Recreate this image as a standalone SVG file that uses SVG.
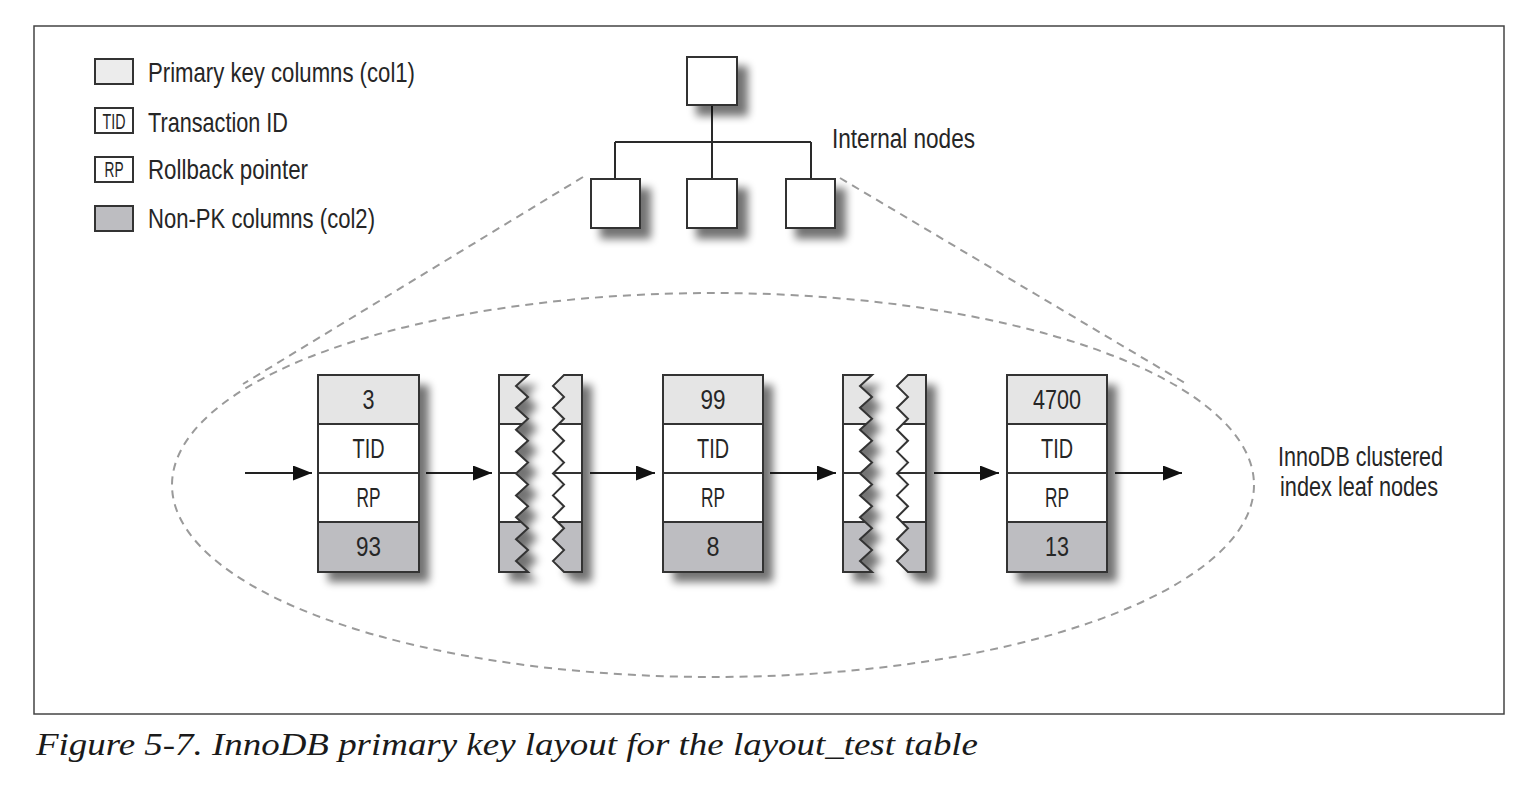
<svg xmlns="http://www.w3.org/2000/svg" xmlns:xlink="http://www.w3.org/1999/xlink" width="1526" height="800" viewBox="0 0 1526 800">
<style>
.lbl{font-family:"Liberation Sans",Arial,sans-serif;fill:#262626;}
.leg{font-size:28px;}
.cell{font-size:27px;text-anchor:middle;}
.box{fill:#fff;stroke:#333;stroke-width:2;}
.pk{fill:#e5e5e5;}
.np{fill:#bdbdc1;}
.wh{fill:#fff;}
.div{stroke:#333;stroke-width:2;fill:none;}
.out{fill:none;stroke:#333;stroke-width:2;}
.dash{fill:none;stroke:#9a9a9a;stroke-width:2;stroke-dasharray:8 6;}
.tree{stroke:#2a2a2a;stroke-width:2;fill:none;}
.arr{stroke:#222;stroke-width:2;fill:none;marker-end:url(#ah);}
</style>
<defs>
<filter id="sh" x="-30%" y="-30%" width="170%" height="170%">
<feGaussianBlur in="SourceAlpha" stdDeviation="4.5"/>
<feOffset dx="10" dy="10"/>
<feComponentTransfer><feFuncA type="linear" slope="0.55"/></feComponentTransfer>
<feMerge><feMergeNode/><feMergeNode in="SourceGraphic"/></feMerge>
</filter>
<marker id="ah" markerUnits="userSpaceOnUse" markerWidth="20" markerHeight="16" refX="19" refY="7.5" orient="auto">
<path d="M0,0 L19,7.5 L0,15 Z" fill="#111"/>
</marker>
<clipPath id="cl"><path id="lp" d="M499,375 H528 L516,385.9 L528,396.9 L516,407.8 L528,418.8 L516,429.7 L528,440.7 L516,451.6 L528,462.6 L516,473.5 L528,484.4 L516,495.4 L528,506.3 L516,517.3 L528,528.2 L516,539.2 L528,550.1 L516,561.1 L528,572 H499 Z"/></clipPath>
<clipPath id="cr"><path id="rp" d="M582,375 H564 L553,385.9 L564,396.9 L553,407.8 L564,418.8 L553,429.7 L564,440.7 L553,451.6 L564,462.6 L553,473.5 L564,484.4 L553,495.4 L564,506.3 L553,517.3 L564,528.2 L553,539.2 L564,550.1 L553,561.1 L564,572 H582 Z"/></clipPath>
<g id="broken">
<g filter="url(#sh)"><use xlink:href="#lp" fill="#fff"/><use xlink:href="#rp" fill="#fff"/></g>
<g clip-path="url(#cl)">
<rect class="pk" x="495" y="375" width="40" height="49"/>
<rect class="np" x="495" y="522" width="40" height="50"/>
<path class="div" d="M495,424 H535 M495,473 H535 M495,522 H535"/>
</g>
<g clip-path="url(#cr)">
<rect class="pk" x="548" y="375" width="40" height="49"/>
<rect class="np" x="548" y="522" width="40" height="50"/>
<path class="div" d="M548,424 H588 M548,473 H588 M548,522 H588"/>
</g>
<use xlink:href="#lp" class="out"/>
<use xlink:href="#rp" class="out"/>
</g>
</defs>

<rect x="34" y="26" width="1470" height="688" fill="#fff" stroke="#444" stroke-width="1.5"/>

<g id="legend">
<rect x="95" y="59" width="38" height="25" fill="#ececec" stroke="#333" stroke-width="2"/>
<text class="lbl leg" x="148" y="82" textLength="267" lengthAdjust="spacingAndGlyphs">Primary key columns (col1)</text>
<rect x="95" y="108" width="38" height="25" fill="#fff" stroke="#333" stroke-width="2"/>
<text class="lbl" x="114" y="129" font-size="22" text-anchor="middle" textLength="23" lengthAdjust="spacingAndGlyphs">TID</text>
<text class="lbl leg" x="148" y="132" textLength="140" lengthAdjust="spacingAndGlyphs">Transaction ID</text>
<rect x="95" y="157" width="38" height="25" fill="#fff" stroke="#333" stroke-width="2"/>
<text class="lbl" x="114" y="177" font-size="22" text-anchor="middle" textLength="19" lengthAdjust="spacingAndGlyphs">RP</text>
<text class="lbl leg" x="148" y="179" textLength="160" lengthAdjust="spacingAndGlyphs">Rollback pointer</text>
<rect x="95" y="206" width="38" height="25" fill="#bdbdc1" stroke="#333" stroke-width="2"/>
<text class="lbl leg" x="148" y="228" textLength="227" lengthAdjust="spacingAndGlyphs">Non-PK columns (col2)</text>
</g>

<g id="connectors">
<path class="tree" d="M712,105 V179 M615,142 H811 M615,142 V179 M811,142 V179"/>
<path class="dash" d="M583,177 L243,384"/>
<path class="dash" d="M840,178 L1185,383"/>
<ellipse class="dash" cx="713" cy="485" rx="541" ry="192"/>
<path class="arr" d="M245,473 H312"/>
<path class="arr" d="M426,473 H492"/>
<path class="arr" d="M590,473 H655"/>
<path class="arr" d="M770,473 H836"/>
<path class="arr" d="M934,473 H999"/>
<path class="arr" d="M1115,473 H1182"/>
</g>

<g id="internal-root"><rect class="box" x="687" y="57" width="50" height="48" filter="url(#sh)"/></g>
<g id="internal-1"><rect class="box" x="591" y="179" width="49" height="49" filter="url(#sh)"/></g>
<g id="internal-2"><rect class="box" x="687" y="179" width="50" height="49" filter="url(#sh)"/></g>
<g id="internal-3"><rect class="box" x="786" y="179" width="49" height="49" filter="url(#sh)"/></g>
<text class="lbl" x="832" y="148" font-size="27" textLength="143" lengthAdjust="spacingAndGlyphs">Internal nodes</text>

<g id="leaf-1">
<rect x="318" y="375" width="101" height="197" fill="#fff" filter="url(#sh)"/>
<rect class="pk" x="318" y="375" width="101" height="49"/>
<rect class="np" x="318" y="522" width="101" height="50"/>
<path class="div" d="M318,424 H419 M318,473 H419 M318,522 H419"/>
<rect class="out" x="318" y="375" width="101" height="197"/>
<text class="lbl cell" x="368.5" y="409" textLength="12" lengthAdjust="spacingAndGlyphs">3</text>
<text class="lbl cell" x="368.5" y="458" textLength="32" lengthAdjust="spacingAndGlyphs">TID</text>
<text class="lbl cell" x="368.5" y="507" textLength="24" lengthAdjust="spacingAndGlyphs">RP</text>
<text class="lbl cell" x="368.5" y="556" textLength="25" lengthAdjust="spacingAndGlyphs">93</text>
</g>

<g id="gap-1"><use xlink:href="#broken"/></g>

<g id="leaf-2">
<rect x="663" y="375" width="100" height="197" fill="#fff" filter="url(#sh)"/>
<rect class="pk" x="663" y="375" width="100" height="49"/>
<rect class="np" x="663" y="522" width="100" height="50"/>
<path class="div" d="M663,424 H763 M663,473 H763 M663,522 H763"/>
<rect class="out" x="663" y="375" width="100" height="197"/>
<text class="lbl cell" x="713" y="409" textLength="25" lengthAdjust="spacingAndGlyphs">99</text>
<text class="lbl cell" x="713" y="458" textLength="32" lengthAdjust="spacingAndGlyphs">TID</text>
<text class="lbl cell" x="713" y="507" textLength="24" lengthAdjust="spacingAndGlyphs">RP</text>
<text class="lbl cell" x="713" y="556" textLength="13" lengthAdjust="spacingAndGlyphs">8</text>
</g>

<g id="gap-2"><use xlink:href="#broken" transform="translate(344,0)"/></g>

<g id="leaf-3">
<rect x="1007" y="375" width="100" height="197" fill="#fff" filter="url(#sh)"/>
<rect class="pk" x="1007" y="375" width="100" height="49"/>
<rect class="np" x="1007" y="522" width="100" height="50"/>
<path class="div" d="M1007,424 H1107 M1007,473 H1107 M1007,522 H1107"/>
<rect class="out" x="1007" y="375" width="100" height="197"/>
<text class="lbl cell" x="1057" y="409" textLength="48" lengthAdjust="spacingAndGlyphs">4700</text>
<text class="lbl cell" x="1057" y="458" textLength="32" lengthAdjust="spacingAndGlyphs">TID</text>
<text class="lbl cell" x="1057" y="507" textLength="24" lengthAdjust="spacingAndGlyphs">RP</text>
<text class="lbl cell" x="1057" y="556" textLength="24" lengthAdjust="spacingAndGlyphs">13</text>
</g>

<text class="lbl" x="1278" y="466" font-size="27" textLength="165" lengthAdjust="spacingAndGlyphs">InnoDB clustered</text>
<text class="lbl" x="1280" y="496" font-size="27" textLength="158" lengthAdjust="spacingAndGlyphs">index leaf nodes</text>

<text x="36" y="755" font-family="'Liberation Serif','Times New Roman',serif" font-style="italic" font-size="32" fill="#1a1a1a" textLength="942" lengthAdjust="spacingAndGlyphs">Figure 5-7. InnoDB primary key layout for the layout_test table</text>
</svg>
